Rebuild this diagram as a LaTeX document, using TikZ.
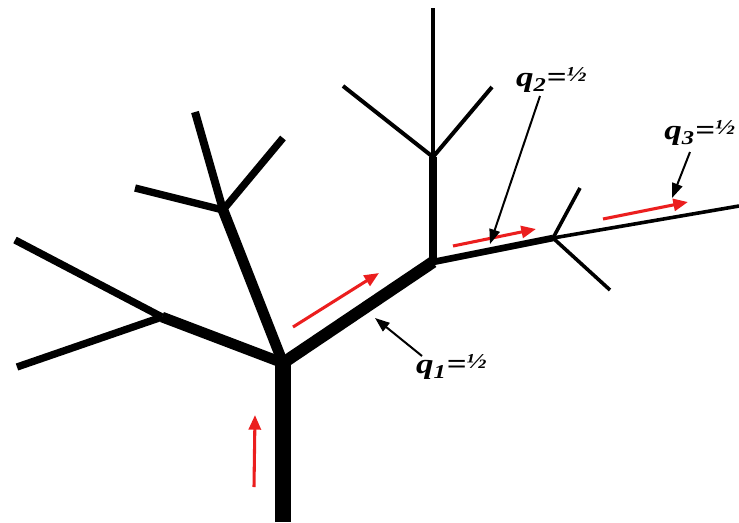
\documentclass[tikz,border=0pt]{standalone}
\usepackage{fontspec}
\setmainfont{Liberation Serif}
\usetikzlibrary{arrows.meta}
\definecolor{flowred}{RGB}{235,30,30}
\newcommand{\halfup}{\raisebox{0.45ex}{\fontsize{16}{16}\selectfont ½}}
\tikzset{
  branch/.style={draw=black,line cap=butt,line join=round},
  flow arrow/.style={-{Triangle[length=11pt,width=9pt]},draw=flowred,fill=flowred,line width=2.3pt},
  pointer arrow/.style={-{Triangle[length=11pt,width=8pt]},draw=black,line width=1.5pt},
  ratio label/.style={font=\fontsize{21}{22}\selectfont\bfseries\itshape,inner sep=1pt,xscale=1.25}
}

\begin{document}
\begin{tikzpicture}[x=0.75pt,y=-0.75pt]
  \useasboundingbox (0,0) rectangle (739,522);

  % junctions
  \coordinate (root) at (283,522);
  \coordinate (fork) at (283,363);
  \coordinate (upleft) at (223,210);
  \coordinate (left) at (162,317);
  \coordinate (mid) at (433,262);
  \coordinate (midtop) at (433,157);
  \coordinate (right) at (553,238);

  % tips
  \coordinate (upleftA) at (195,112);
  \coordinate (upleftB) at (135,188);
  \coordinate (upleftC) at (283,138);
  \coordinate (leftA) at (15,240);
  \coordinate (leftB) at (17,367);
  \coordinate (midA) at (433,8);
  \coordinate (midB) at (343,86);
  \coordinate (midC) at (492,87);
  \coordinate (rightA) at (739,206);
  \coordinate (rightB) at (580,188);
  \coordinate (rightC) at (610,290);

  % tree
  \draw[branch,line width=12pt] (root) -- (fork);
  \draw[branch,line width=9pt] (fork) -- (mid);
  \draw[branch,line width=8pt] (fork) -- (upleft);
  \draw[branch,line width=6pt] (upleft) -- (upleftA);
  \draw[branch,line width=5.5pt] (upleft) -- (upleftB);
  \draw[branch,line width=5.5pt] (upleft) -- (upleftC);
  \draw[branch,line width=8pt] (fork) -- (left);
  \draw[branch,line width=5.5pt] (left) -- (leftA);
  \draw[branch,line width=5.5pt] (left) -- (leftB);
  \draw[branch,line width=6pt] (mid) -- (midtop);
  \draw[branch,line width=3pt] (midtop) -- (midA);
  \draw[branch,line width=3pt] (midtop) -- (midB);
  \draw[branch,line width=3pt] (midtop) -- (midC);
  \draw[branch,line width=5pt] (mid) -- (right);
  \draw[branch,line width=2.7pt] (right) -- (rightA);
  \draw[branch,line width=2.7pt] (right) -- (rightB);
  \draw[branch,line width=2.7pt] (right) -- (rightC);

  % flow
  \coordinate (flowA1) at (254,487);
  \coordinate (flowA2) at (255,415);
  \coordinate (flowB1) at (293,327);
  \coordinate (flowB2) at (379,273);
  \coordinate (flowC1) at (453,246);
  \coordinate (flowC2) at (536,229);
  \coordinate (flowD1) at (603,219);
  \coordinate (flowD2) at (688,202);
  \draw[flow arrow] (flowA1) -- (flowA2);
  \draw[flow arrow] (flowB1) -- (flowB2);
  \draw[flow arrow] (flowC1) -- (flowC2);
  \draw[flow arrow] (flowD1) -- (flowD2);

  % ratios
  \node[ratio label,anchor=west] (qone) at (414,367) {q\textsubscript{1}=\halfup};
  \node[ratio label,anchor=west] (qtwo) at (514,80) {q\textsubscript{2}=\halfup};
  \node[ratio label,anchor=east] (qthree) at (737,133) {q\textsubscript{3}=\halfup};
  \coordinate (tipone) at (375,318);
  \coordinate (tiptwo) at (490,244);
  \coordinate (tipthree) at (672,198);
  \coordinate (tailone) at (422,356);
  \coordinate (tailtwo) at (540,96);
  \coordinate (tailthree) at (690,152);
  \draw[pointer arrow] (tailone) -- (tipone);
  \draw[pointer arrow] (tailtwo) -- (tiptwo);
  \draw[pointer arrow] (tailthree) -- (tipthree);
\end{tikzpicture}
\end{document}
